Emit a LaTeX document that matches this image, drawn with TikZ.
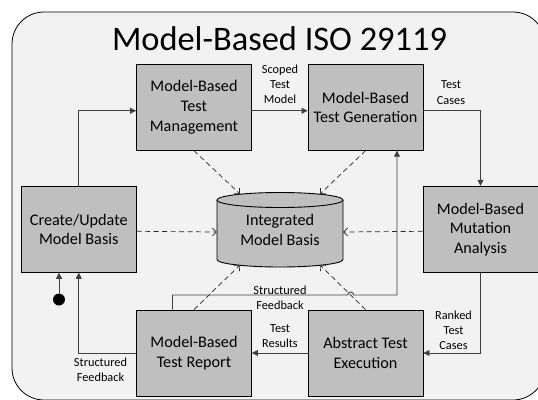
\documentclass[tikz,border=0pt]{standalone}
\usepackage{fontspec}
\setmainfont{Carlito}
\usepackage{tikz}
\usepackage{xcolor}
\usetikzlibrary{arrows.meta, positioning, calc}

\definecolor{panel}{HTML}{F2F2F2}
\definecolor{boxgray}{HTML}{BFBFBF}
\definecolor{wire}{HTML}{404040}

\tikzset{
  box/.style={draw=black, fill=boxgray, line width=0.9pt, minimum width=115pt, minimum height=86pt,
    align=center, font=\fontsize{16.2}{19.6}\selectfont, inner sep=2pt},
  flow/.style={draw=wire, line width=0.9pt, -{Triangle[length=6pt,width=6pt]}},
  dep/.style={draw=black!85, line width=0.7pt, dash pattern=on 5pt off 3.5pt,
    -{Straight Barb[length=4pt,width=8pt]}},
  lbl/.style={align=center, font=\fontsize{12.3}{15.2}\selectfont, inner sep=0pt},
}

\begin{document}
\begin{tikzpicture}[x=1pt, y=-1pt]
\useasboundingbox (0,0) rectangle (538,399);
\clip (0,0) rectangle (538,399);
\fill[white] (0,0) rectangle (538,399);

% Outer frame
\draw[fill=panel, line width=0.8pt, rounded corners=32pt] (12,12) rectangle (545,400);
\node[anchor=base, font=\fontsize{34.4}{40}\selectfont] (title) at (279.5,50) {Model-Based ISO 29119};

% Process boxes
\node[box] (mbtm) at (194,107.25) {Model-Based\\Test\\Management};
\node[box] (mbtg) at (365.5,107.25) {Model-Based\\Test Generation};
\node[box] (cu) at (78.75,229.3) {Create/Update\\Model Basis};
\node[box] (mut) at (480.5,229.3) {Model-Based\\Mutation\\Analysis};
\node[box] (mbtr) at (194,353) {Model-Based\\Test Report};
\node[box] (ate) at (365.5,353) {Abstract Test\\Execution};

% Integrated model basis (cylinder)
\fill[boxgray] (217,200) -- (217,259.5) arc[start angle=180, end angle=360, x radius=63pt, y radius=7.5pt]
  -- (343,200) arc[start angle=0, end angle=180, x radius=63pt, y radius=7.5pt] -- cycle;
\draw[line width=0.9pt] (217,200) -- (217,259.5) arc[start angle=180, end angle=360, x radius=63pt, y radius=7.5pt]
  -- (343,200);
\draw[line width=0.9pt] (280,200) ellipse[x radius=63pt, y radius=7.5pt];
\node[align=center, font=\fontsize{16.2}{19.6}\selectfont, minimum width=126pt, minimum height=74pt] (mb) at (280,230) {Integrated\\Model Basis};
\coordinate (mbtl) at (240,194);
\coordinate (mbtr2) at (320,194);
\coordinate (mbbl) at (240,265);
\coordinate (mbbr) at (320,265);

% Dashed links to the model basis
\draw[dep] (mbtm.south) -- (mbtl);
\draw[dep] (mbtg.south) -- (mbtr2);
\draw[dep] ([yshift=-2pt]cu.east) -- ([yshift=-2pt]mb.west);
\draw[dep] ([yshift=-2pt]mut.west) -- ([yshift=-2pt]mb.east);
\draw[dep] (mbtr.north) -- (mbbl);
\draw[dep] (ate.north) -- (mbbr);

% Main flow
\draw[flow] (cu.north) |- ([yshift=-3.5pt]mbtm.west);
\draw[flow] ([yshift=-3.5pt]mbtm.east) -- ([yshift=-3.5pt]mbtg.west);
\draw[flow] ([yshift=-3.5pt]mbtg.east) -| (mut.north);
\draw[flow] (mut.south) |- (ate.east);
\draw[flow] (ate.west) -- (mbtr.east);
\draw[flow] (mbtr.west) -| (cu.south);

% Start
\node[circle, fill=black, inner sep=0pt, minimum size=12pt] (start) at (59,299.5) {};
\draw[flow] (start) -- (start |- cu.south);

% Feedback to generation, hopping over the dashed link
\coordinate (fb) at (397,295);
\draw[flow] ([xshift=-21.5pt]mbtr.north) |- (347.7,295)
  arc[start angle=180, end angle=0, radius=3pt] -- (fb) -- (fb |- mbtg.south);

% Labels
\node[lbl] (lscoped) at (280,84.5) {Scoped\\Test\\Model};
\node[lbl] (lcases) at (451,92.5) {Test\\Cases};
\node[lbl] (lranked) at (453.5,330) {Ranked\\Test\\Cases};
\node[lbl] (lresults) at (280,336) {Test\\Results};
\node[lbl] (lfbleft) at (100.5,369.5) {Structured\\Feedback};
\node[lbl] (lfbmid) at (280,297.5) {Structured\\Feedback};
\end{tikzpicture}
\end{document}
